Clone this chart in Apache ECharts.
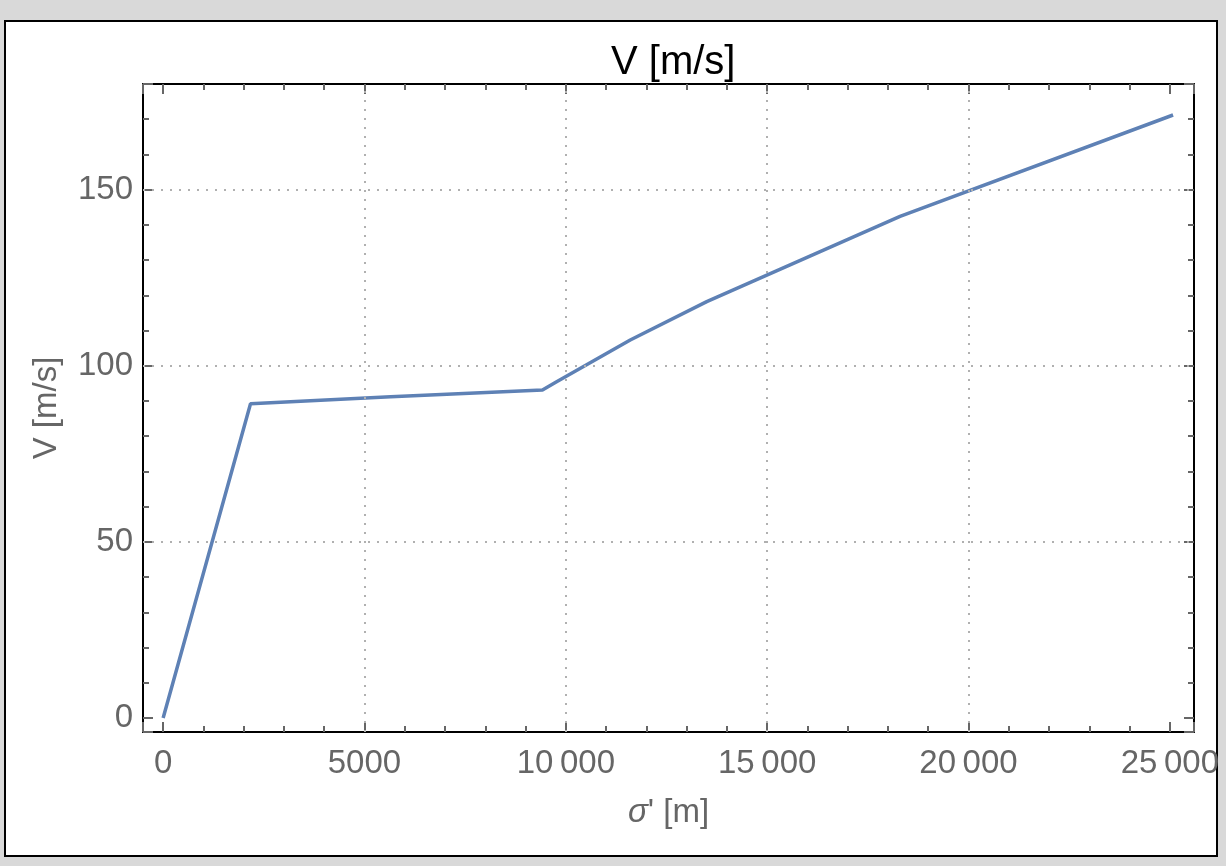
<!DOCTYPE html>
<html>
<head>
<meta charset="utf-8">
<script src="https://cdn.jsdelivr.net/npm/echarts@6/dist/echarts.min.js"></script>
<style>
html,body{margin:0;padding:0;background:#d9d9d9;}
#frame{position:absolute;left:4px;top:20px;width:1214px;height:837px;box-sizing:border-box;border:2px solid #000;background:#fff;}
#main{position:absolute;left:0;top:0;width:1226px;height:866px;}
</style>
</head>
<body>
<div id="frame"></div>
<div id="main"></div>
<script>
// sigma' [m] vs V [m/s]
var sigma = [0, 2170, 5650, 9420, 9750, 11600, 13500, 18300, 25080];
var speed = [0, 89.2, 91.2, 93.1, 95.3, 107.3, 118.2, 142.4, 171.2];
var gridX = [5000, 10000, 15000, 20000];
var gridY = [50, 100, 150];

var tickColor = '#666';
var fontName = 'Liberation Sans';

function fmtX(v){
	if (v % 5000 !== 0) return '';
	var s = String(v);
	if (v >= 10000) s = s.slice(0, s.length - 3) + '\u2009' + s.slice(-3);
	return s;
}
function fmtY(v){
	return v % 50 === 0 ? String(v) : '';
}

function axisX(pos, labels){
	return {
		type : 'value',
		position : pos,
		min : -500,
		max : 25600,
		minInterval : 5000,
		maxInterval : 5000,
		splitNumber : 5,
		name : labels ? "{i|σ}' [m]" : '',
		nameLocation : 'middle',
		nameGap : 64,
		nameTextStyle : {
			color : tickColor, fontSize : 33, fontFamily : fontName,
			rich : { i : { fontStyle : 'italic', color : tickColor, fontSize : 33, fontFamily : fontName } }
		},
		axisLine : { show : true, onZero : false, lineStyle : { color : '#000', width : 2 } },
		axisTick : { show : true, inside : true, length : 10, lineStyle : { color : tickColor, width : 2 } },
		minorTick : { show : true, splitNumber : 5, length : 6, lineStyle : { color : tickColor, width : 2 } },
		axisLabel : { show : labels, formatter : fmtX, color : tickColor, fontSize : 33, fontFamily : fontName, margin : 15, showMinLabel : false, showMaxLabel : false },
		splitLine : { show : false }
	};
}
function axisY(pos, labels){
	return {
		type : 'value',
		position : pos,
		min : -4,
		max : 180,
		minInterval : 50,
		maxInterval : 50,
		splitNumber : 4,
		name : labels ? 'V [m/s]' : '',
		nameLocation : 'middle',
		nameGap : 80,
		nameTextStyle : { color : tickColor, fontSize : 33, fontFamily : fontName },
		axisLine : { show : true, onZero : false, lineStyle : { color : '#000', width : 2 } },
		axisTick : { show : true, inside : true, length : 10, lineStyle : { color : tickColor, width : 2 } },
		minorTick : { show : true, splitNumber : 5, length : 6, lineStyle : { color : tickColor, width : 2 } },
		axisLabel : { show : labels, formatter : fmtY, color : tickColor, fontSize : 33, fontFamily : fontName, margin : 10, showMinLabel : false, showMaxLabel : false },
		splitLine : { show : false }
	};
}

var gridMarks = [];
for (var i = 0; i < gridX.length; i++) gridMarks.push({ xAxis : gridX[i] });
for (var j = 0; j < gridY.length; j++) gridMarks.push({ yAxis : gridY[j] });

var points = [];
for (var k = 0; k < sigma.length; k++) points.push([sigma[k], speed[k]]);

var mycharts = echarts.init(document.getElementById('main'));
var option = {
	animation : false,
	backgroundColor : 'transparent',
	title : {
		text : 'V [m/s]',
		left : 606,
		top : 38,
		textStyle : { color : '#000', fontSize : 40, fontWeight : 'normal', fontFamily : fontName }
	},
	grid : { left : 143, top : 84, right : 32, bottom : 134 },
	xAxis : [ axisX('bottom', true), axisX('top', false) ],
	yAxis : [ axisY('left', true), axisY('right', false) ],
	series : [ {
		// dotted grid lines under the curve
		type : 'line',
		data : [],
		z : 1,
		silent : true,
		markLine : {
			silent : true,
			symbol : 'none',
			label : { show : false },
			lineStyle : { type : [2, 7], color : '#b0b0b0', width : 2 },
			data : gridMarks
		}
	}, {
		name : 'V',
		type : 'line',
		z : 3,
		showSymbol : false,
		symbol : 'none',
		lineStyle : { color : '#5e81b5', width : 3.5 },
		data : points
	} ]
};
mycharts.setOption(option);
</script>
</body>
</html>
